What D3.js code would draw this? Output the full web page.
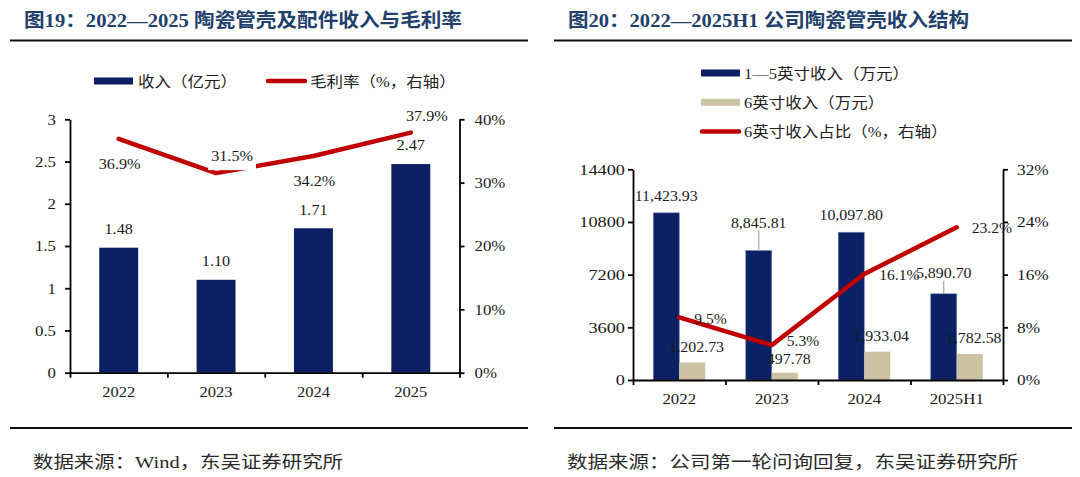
<!DOCTYPE html>
<html>
<head>
<meta charset="utf-8">
<script src="https://cdn.jsdelivr.net/npm/d3@7"></script>
<style>
  body { margin: 0; background: #fff; }
  svg { display: block; }
</style>
</head>
<body>
<div id="chart"></div>
<script>
// ---- data: figure 19 ----
const leftYears = ['2022', '2023', '2024', '2025'];
const revenue = [1.48, 1.10, 1.71, 2.47];          // 亿元
const grossMargin = [0.369, 0.315, 0.342, 0.379];  // 右轴
const leftYTicks = [0, 0.5, 1, 1.5, 2, 2.5, 3];
const leftPctTicks = [0, 0.1, 0.2, 0.3, 0.4];

// ---- data: figure 20 ----
const rightYears = ['2022', '2023', '2024', '2025H1'];
const rev1to5 = [11423.93, 8845.81, 10097.80, 5890.70];  // 万元
const rev6 = [1202.73, 497.78, 1933.04, 1782.58];        // 万元
const share6 = [0.095, 0.053, 0.161, 0.232];             // 右轴
const rightYTicks = [0, 3600, 7200, 10800, 14400];
const rightPctTicks = [0, 0.08, 0.16, 0.24, 0.32];

// ---- look ----
const NAVY = '#0b2163';
const TAN = '#cbc3a4';
const RED = '#c00000';
const TITLE = '#21406b';
const SERIF = '"Liberation Serif", "Times New Roman", serif';
const MIXED = '"Liberation Serif", "Noto Sans CJK SC", serif';

const svg = d3.select('#chart').append('svg')
  .attr('width', 1080)
  .attr('height', 477);

// widen text horizontally (the source picture is a bit stretched)
function stretch(sel, k) {
  sel.each(function () {
    const w = this.getComputedTextLength();
    d3.select(this).attr('textLength', w * k).attr('lengthAdjust', 'spacingAndGlyphs');
  });
}
function fitTo(sel, w) {
  sel.attr('textLength', w).attr('lengthAdjust', 'spacingAndGlyphs');
}

function styleAxis(g, k) {
  g.select('.domain').attr('stroke', '#000').attr('stroke-width', 1.8);
  g.selectAll('.tick line').attr('stroke', '#000').attr('stroke-width', 1.8);
  g.selectAll('.tick text')
    .attr('fill', '#1a1a1a')
    .style('font-family', SERIF)
    .style('font-size', '15px')
    .call(stretch, k);
}

// frame: titles, rules, sources
const panels = [
  { x0: 10, x1: 528, tx: 24, tw: 438, title: '图19：2022—2025 陶瓷管壳及配件收入与毛利率',
    fx: 33, fw: 310, source: '数据来源：Wind，东吴证券研究所' },
  { x0: 554, x1: 1072, tx: 568, tw: 401, title: '图20：2022—2025H1 公司陶瓷管壳收入结构',
    fx: 567, fw: 451, source: '数据来源：公司第一轮问询回复，东吴证券研究所' },
];
panels.forEach((p) => {
  svg.append('text')
    .attr('x', p.tx).attr('y', 27)
    .attr('fill', TITLE)
    .style('font-family', MIXED)
    .style('font-weight', 'bold')
    .style('font-size', '19px')
    .text(p.title)
    .call(fitTo, p.tw);
  [40.5, 428].forEach((y) => {
    svg.append('line')
      .attr('x1', p.x0).attr('x2', p.x1)
      .attr('y1', y).attr('y2', y)
      .attr('stroke', '#111')
      .attr('stroke-width', 2);
  });
  svg.append('text')
    .attr('x', p.fx).attr('y', 468)
    .attr('fill', '#2a2a2a')
    .style('font-family', MIXED)
    .style('font-size', '17px')
    .text(p.source)
    .call(fitTo, p.fw);
});

// ================= figure 19 =================
{
  const left = 70, right = 459.5, top = 119.3, bottom = 372.7;
  const x = d3.scaleBand().domain(leftYears).range([left, right]);
  const y = d3.scaleLinear().domain([0, 3]).range([bottom, top]);
  const yR = d3.scaleLinear().domain([0, 0.4]).range([bottom, top]);
  const barW = x.bandwidth() * 0.4;
  const cx = (d) => x(d) + x.bandwidth() / 2;
  const g = svg.append('g');

  // legend
  const lg = g.append('g').attr('transform', 'translate(0,81)');
  lg.append('rect').attr('x', 94).attr('y', -3.5).attr('width', 39).attr('height', 7).attr('fill', NAVY);
  lg.append('text').attr('x', 138).attr('y', 5.5).text('收入（亿元）');
  lg.append('line').attr('x1', 268).attr('x2', 305).attr('y1', 0).attr('y2', 0)
    .attr('stroke', RED).attr('stroke-width', 4.5).attr('stroke-linecap', 'round');
  lg.append('text').attr('x', 310).attr('y', 5.5).text('毛利率（%，右轴）');
  lg.selectAll('text').attr('fill', '#222').style('font-family', MIXED).style('font-size', '15px')
    .call(stretch, 1.1);

  // bars
  g.selectAll('.bar')
    .data(revenue)
    .join('rect')
    .attr('class', 'bar')
    .attr('x', (d, i) => cx(leftYears[i]) - barW / 2)
    .attr('y', (d) => y(d))
    .attr('width', barW)
    .attr('height', (d) => bottom - y(d))
    .attr('fill', NAVY);

  // axes
  g.append('g').attr('transform', `translate(${left},0)`)
    .call(d3.axisLeft(y).tickValues(leftYTicks).tickSize(5).tickSizeOuter(0).tickPadding(9).tickFormat((d) => String(d)))
    .call(styleAxis, 1.12);
  g.append('g').attr('transform', `translate(${right},0)`)
    .call(d3.axisRight(yR).tickValues(leftPctTicks).tickSize(5).tickSizeOuter(0).tickPadding(10).tickFormat(d3.format('.0%')))
    .call(styleAxis, 1.12);
  const xb = d3.scaleLinear().domain([0, leftYears.length]).range([left, right]);
  g.append('g').attr('transform', `translate(0,${bottom})`)
    .call(d3.axisBottom(xb).tickValues(d3.range(leftYears.length + 1)).tickSize(5).tickSizeOuter(0).tickFormat(''))
    .call(styleAxis, 1);
  g.selectAll('.xlab')
    .data(leftYears)
    .join('text')
    .attr('class', 'xlab')
    .attr('x', (d) => cx(d))
    .attr('y', bottom + 19)
    .attr('dy', '0.35em')
    .attr('text-anchor', 'middle')
    .attr('fill', '#1a1a1a')
    .style('font-family', SERIF)
    .style('font-size', '15px')
    .text((d) => d)
    .call(stretch, 1.1);

  // margin line
  const line = d3.line().x((d, i) => cx(leftYears[i])).y((d) => yR(d));
  g.append('path')
    .datum(grossMargin)
    .attr('d', line)
    .attr('fill', 'none')
    .attr('stroke', RED)
    .attr('stroke-width', 4.5)
    .attr('stroke-linecap', 'round')
    .attr('stroke-linejoin', 'round');

  // line labels (white boxed, alternating below / upper-right)
  const place = ['below', 'above', 'below', 'above'];
  const ml = g.selectAll('.mlab')
    .data(grossMargin)
    .join('g')
    .attr('class', 'mlab')
    .attr('transform', (d, i) => {
      const px = cx(leftYears[i]);
      const py = yR(d);
      return place[i] === 'below' ? `translate(${px + 1},${py + 25})` : `translate(${px + 16},${py - 17})`;
    });
  ml.append('text')
    .attr('dy', '0.35em')
    .attr('text-anchor', 'middle')
    .attr('fill', '#1a1a1a')
    .style('font-family', SERIF)
    .style('font-size', '15px')
    .text((d) => d3.format('.1%')(d))
    .call(stretch, 1.08);
  ml.each(function () {
    const t = d3.select(this).select('text').node();
    const w = t.getComputedTextLength();
    d3.select(this).insert('rect', 'text')
      .attr('x', -w / 2 - 3).attr('y', -12)
      .attr('width', w + 6).attr('height', 26)
      .attr('fill', '#fff');
  });

  // bar labels
  g.selectAll('.blab')
    .data(revenue)
    .join('text')
    .attr('class', 'blab')
    .attr('x', (d, i) => cx(leftYears[i]))
    .attr('y', (d) => y(d) - 19)
    .attr('dy', '0.35em')
    .attr('text-anchor', 'middle')
    .attr('fill', '#1a1a1a')
    .style('font-family', SERIF)
    .style('font-size', '15px')
    .text((d) => d3.format('.2f')(d))
    .call(stretch, 1.08);
}

// ================= figure 20 =================
{
  const left = 633, right = 1003, top = 169.3, bottom = 380;
  const x = d3.scaleBand().domain(rightYears).range([left, right]);
  const y = d3.scaleLinear().domain([0, 14400]).range([bottom, top]);
  const yR = d3.scaleLinear().domain([0, 0.32]).range([bottom, top]);
  const barW = x.bandwidth() * 0.281;
  const cx = (d) => x(d) + x.bandwidth() / 2;
  const g = svg.append('g');

  // legend
  const legendRows = [
    { label: '1—5英寸收入（万元）', kind: 'bar', color: NAVY },
    { label: '6英寸收入（万元）', kind: 'bar', color: TAN },
    { label: '6英寸收入占比（%，右轴）', kind: 'line', color: RED },
  ];
  const lg = g.selectAll('.leg')
    .data(legendRows)
    .join('g')
    .attr('class', 'leg')
    .attr('transform', (d, i) => `translate(0,${73 + i * 29.3})`);
  lg.filter((d) => d.kind === 'bar').append('rect')
    .attr('x', 701).attr('y', -3.5).attr('width', 39).attr('height', 7)
    .attr('fill', (d) => d.color);
  lg.filter((d) => d.kind === 'line').append('line')
    .attr('x1', 702).attr('x2', 739).attr('y1', 0).attr('y2', 0)
    .attr('stroke', (d) => d.color).attr('stroke-width', 4.5).attr('stroke-linecap', 'round');
  lg.append('text')
    .attr('x', 744).attr('y', 5.5)
    .attr('fill', '#222')
    .style('font-family', MIXED)
    .style('font-size', '15px')
    .text((d) => d.label)
    .call(stretch, 1.1);

  // bars
  g.selectAll('.bar1')
    .data(rev1to5)
    .join('rect')
    .attr('class', 'bar1')
    .attr('x', (d, i) => cx(rightYears[i]) - barW)
    .attr('y', (d) => y(d))
    .attr('width', barW)
    .attr('height', (d) => bottom - y(d))
    .attr('fill', NAVY)
    .attr('stroke', '#6f82b4')
    .attr('stroke-width', 0.6);
  g.selectAll('.bar6')
    .data(rev6)
    .join('rect')
    .attr('class', 'bar6')
    .attr('x', (d, i) => cx(rightYears[i]))
    .attr('y', (d) => y(d))
    .attr('width', barW)
    .attr('height', (d) => bottom - y(d))
    .attr('fill', TAN);

  // axes
  g.append('g').attr('transform', `translate(${left},0)`)
    .call(d3.axisLeft(y).tickValues(rightYTicks).tickSize(5).tickSizeOuter(0).tickPadding(3).tickFormat((d) => String(d)))
    .call(styleAxis, 1.22);
  g.append('g').attr('transform', `translate(${right},0)`)
    .call(d3.axisRight(yR).tickValues(rightPctTicks).tickSize(5).tickSizeOuter(0).tickPadding(9).tickFormat(d3.format('.0%')))
    .call(styleAxis, 1.15);
  const xb = d3.scaleLinear().domain([0, rightYears.length]).range([left, right]);
  g.append('g').attr('transform', `translate(0,${bottom})`)
    .call(d3.axisBottom(xb).tickValues(d3.range(rightYears.length + 1)).tickSize(5).tickSizeOuter(0).tickFormat(''))
    .call(styleAxis, 1);
  g.selectAll('.xlab')
    .data(rightYears)
    .join('text')
    .attr('class', 'xlab')
    .attr('x', (d) => cx(d))
    .attr('y', bottom + 19)
    .attr('dy', '0.35em')
    .attr('text-anchor', 'middle')
    .attr('fill', '#1a1a1a')
    .style('font-family', SERIF)
    .style('font-size', '15px')
    .text((d) => d)
    .call(stretch, 1.12);

  // share line
  const line = d3.line().x((d, i) => cx(rightYears[i])).y((d) => yR(d));
  g.append('path')
    .datum(share6)
    .attr('d', line)
    .attr('fill', 'none')
    .attr('stroke', RED)
    .attr('stroke-width', 4.5)
    .attr('stroke-linecap', 'round')
    .attr('stroke-linejoin', 'round');

  const fmt2 = d3.format(',.2f');
  // navy labels: two were lifted in the source, with a grey leader line
  const navyLift = [0, 11, 0, 4];
  const lifted = d3.range(rev1to5.length).filter((i) => navyLift[i] > 0);
  g.selectAll('.lead')
    .data(lifted)
    .join('line')
    .attr('class', 'lead')
    .attr('x1', (i) => cx(rightYears[i]) - barW / 2)
    .attr('x2', (i) => cx(rightYears[i]) - barW / 2)
    .attr('y1', (i) => y(rev1to5[i]) - 17 - navyLift[i] + 8)
    .attr('y2', (i) => y(rev1to5[i]))
    .attr('stroke', '#a6a6a6')
    .attr('stroke-width', 1.2);

  const labelStyle = (sel) => sel
    .attr('dy', '0.35em')
    .attr('fill', '#1a1a1a')
    .style('font-family', SERIF)
    .style('font-size', '15px');

  g.selectAll('.l1')
    .data(rev1to5)
    .join('text')
    .attr('class', 'l1')
    .attr('x', (d, i) => cx(rightYears[i]) - barW / 2)
    .attr('y', (d, i) => y(d) - 17 - navyLift[i])
    .attr('text-anchor', 'middle')
    .call(labelStyle)
    .text((d) => fmt2(d))
    .call(stretch, 1.06);

  // tan labels; the 2023 one sits a little lower to clear the ratio label
  const tanDrop = [0, 2, 0, 0];
  g.selectAll('.l6')
    .data(rev6)
    .join('text')
    .attr('class', 'l6')
    .attr('x', (d, i) => cx(rightYears[i]) + barW / 2 + 4)
    .attr('y', (d, i) => y(d) - 16 + tanDrop[i])
    .attr('text-anchor', 'middle')
    .call(labelStyle)
    .text((d) => fmt2(d))
    .call(stretch, 1.06);

  const shareRise = [0, 5, 0, 0];
  g.selectAll('.ls')
    .data(share6)
    .join('text')
    .attr('class', 'ls')
    .attr('x', (d, i) => cx(rightYears[i]) + 15)
    .attr('y', (d, i) => yR(d) + 1 - shareRise[i])
    .call(labelStyle)
    .text((d) => d3.format('.1%')(d))
    .call(stretch, 1.04);
}
</script>
</body>
</html>
